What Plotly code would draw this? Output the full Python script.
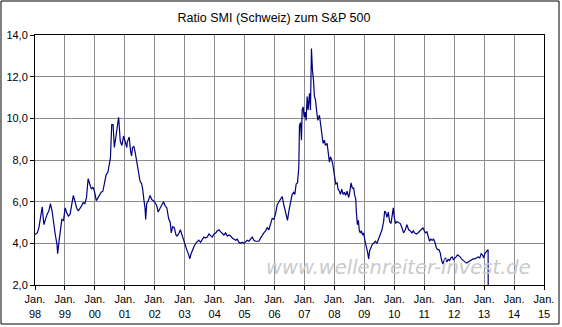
import plotly.graph_objects as go

# ---- data ----
years = [
    1998.00, 1998.077, 1998.131, 1998.186, 1998.241, 1998.296, 1998.350, 1998.405, 1998.460, 1998.515,
    1998.570, 1998.624, 1998.679, 1998.734, 1998.756, 1998.811, 1998.843, 1998.898, 1998.953, 1999.008,
    1999.062, 1999.117, 1999.172, 1999.227, 1999.281, 1999.336, 1999.391, 1999.446, 1999.501, 1999.555,
    1999.610, 1999.665, 1999.720, 1999.774, 1999.829, 1999.884, 1999.939, 1999.993, 2000.048, 2000.103,
    2000.158, 2000.212, 2000.267, 2000.322, 2000.377, 2000.432, 2000.486, 2000.519, 2000.563, 2000.607,
    2000.651, 2000.705, 2000.760, 2000.793, 2000.848, 2000.903, 2000.957, 2001.001, 2001.067,
    2001.079, 2001.146, 2001.191, 2001.225, 2001.258, 2001.303, 2001.348, 2001.393, 2001.449, 2001.506,
    2001.562, 2001.596, 2001.640, 2001.674, 2001.697, 2001.730, 2001.787, 2001.843, 2001.899, 2001.955,
    2002.011, 2002.067, 2002.112, 2002.180, 2002.236, 2002.292, 2002.348, 2002.404, 2002.461, 2002.517,
    2002.551, 2002.596, 2002.652, 2002.708, 2002.742, 2002.798, 2002.854, 2002.910, 2002.966, 2003.022,
    2003.079, 2003.135, 2003.169, 2003.213, 2003.258, 2003.326, 2003.393, 2003.472, 2003.528, 2003.584,
    2003.640, 2003.697, 2003.753, 2003.809, 2003.865, 2003.921, 2003.978, 2004.034, 2004.090, 2004.146,
    2004.202, 2004.258,
    2004.311, 2004.367, 2004.422, 2004.478, 2004.533, 2004.589, 2004.644, 2004.700, 2004.756, 2004.811,
    2004.867, 2004.922, 2004.978, 2005.033, 2005.089, 2005.144, 2005.200, 2005.256, 2005.311, 2005.367,
    2005.422, 2005.478, 2005.533, 2005.589, 2005.644, 2005.700, 2005.756, 2005.811, 2005.867, 2005.922,
    2005.978, 2006.033, 2006.089, 2006.144, 2006.200, 2006.256, 2006.311, 2006.367, 2006.400, 2006.433,
    2006.478, 2006.533, 2006.589, 2006.644, 2006.678, 2006.722, 2006.767, 2006.811, 2006.833, 2006.867,
    2006.900, 2006.922, 2006.956, 2006.989, 2007.022, 2007.056, 2007.089, 2007.122, 2007.167, 2007.200,
    2007.233, 2007.267, 2007.300, 2007.333, 2007.367, 2007.411, 2007.444,
    2007.500, 2007.533, 2007.589, 2007.622, 2007.667, 2007.700, 2007.756, 2007.789, 2007.833, 2007.867,
    2007.900, 2007.944, 2007.978, 2008.011, 2008.044, 2008.089, 2008.122, 2008.167, 2008.200, 2008.244,
    2008.289, 2008.333, 2008.378, 2008.422, 2008.478, 2008.511, 2008.556, 2008.600, 2008.644, 2008.678,
    2008.711, 2008.733, 2008.767, 2008.800, 2008.833, 2008.867, 2008.900, 2008.944, 2008.978, 2009.022,
    2009.067, 2009.111, 2009.144, 2009.178, 2009.222, 2009.267, 2009.311, 2009.367, 2009.422, 2009.478,
    2009.533, 2009.589, 2009.644, 2009.678, 2009.711, 2009.756, 2009.800, 2009.844, 2009.889, 2009.933,
    2009.967, 2010.000, 2010.044, 2010.089, 2010.144, 2010.200, 2010.256, 2010.311, 2010.367, 2010.422,
    2010.478, 2010.533, 2010.589, 2010.633,
    2010.678, 2010.733, 2010.789, 2010.844, 2010.900, 2010.956, 2011.000, 2011.044, 2011.089, 2011.133,
    2011.178, 2011.222, 2011.267, 2011.311, 2011.356, 2011.400, 2011.444, 2011.489, 2011.533, 2011.578,
    2011.622, 2011.667, 2011.711, 2011.756, 2011.800, 2011.844, 2011.889, 2011.933, 2011.978, 2012.022,
    2012.067, 2012.111, 2012.156, 2012.200, 2012.244, 2012.289,
    2012.356, 2012.411, 2012.467, 2012.522, 2012.578, 2012.633, 2012.689, 2012.744, 2012.800, 2012.856,
    2012.900, 2012.944, 2012.989, 2013.022, 2013.056, 2013.100, 2013.133, 2013.140,
]
ratio = [
    4.43, 4.5, 4.75, 5.2, 5.75, 4.9, 5.2, 5.4, 5.55, 5.9,
    5.55, 4.9, 4.4, 3.95, 3.5, 4.2, 4.65, 5.15, 5.1, 5.7,
    5.45, 5.3, 5.4, 5.8, 6.3, 6.0, 5.7, 5.55, 5.65, 5.8,
    5.95, 5.9, 6.2, 7.1, 6.85, 6.6, 6.7, 6.45, 6.05, 6.2,
    6.35, 6.45, 6.5, 6.9, 7.3, 7.4, 7.95, 8.1, 9.7, 9.7,
    8.6, 9.1, 9.7, 10.05, 8.9, 8.7, 9.15, 8.9, 8.6,
    8.85, 9.1, 8.45, 8.2, 8.6, 8.65, 8.35, 7.9, 7.5, 7.0,
    6.85, 6.6, 6.05, 5.7, 5.15, 5.9, 6.05, 6.3, 6.1, 6.05,
    5.95, 5.8, 5.5, 5.7, 5.9, 6.0, 5.8, 5.7, 5.2, 5.0,
    4.5, 4.8, 4.75, 4.4, 4.35, 4.45, 4.65, 4.4, 4.05, 3.9,
    3.65, 3.45, 3.25, 3.5, 3.7, 3.9, 4.05, 4.15, 4.05, 4.2,
    4.3, 4.25, 4.3, 4.45, 4.35, 4.3, 4.45, 4.5, 4.6, 4.65,
    4.55, 4.45,
    4.4, 4.5, 4.35, 4.4, 4.35, 4.25, 4.2, 4.15, 4.2, 4.05,
    4.0, 4.05, 4.0, 4.1, 4.15, 4.1, 4.2, 4.3, 4.15, 4.1,
    4.1, 4.1, 4.25, 4.4, 4.5, 4.6, 4.75, 4.65, 5.0, 5.2,
    5.15, 5.4, 5.85, 6.0, 6.1, 6.25, 5.85, 5.55, 5.4, 5.1,
    5.55, 5.9, 6.35, 6.45, 6.35, 6.85, 6.9, 7.65, 9.65, 9.8,
    8.95, 10.4, 10.55, 10.05, 10.3, 9.9, 11.05, 10.4, 11.2, 10.4,
    13.35, 12.3, 11.85, 11.05, 10.9, 10.3, 9.9,
    10.15, 9.75, 9.25, 8.8, 8.95, 8.7, 8.8, 8.45, 7.9, 8.15,
    8.05, 7.8, 7.5, 7.15, 6.85, 6.9, 6.6, 6.5, 6.35, 6.6,
    6.35, 6.45, 6.3, 6.5, 6.2, 6.45, 6.9, 6.65, 6.65, 6.3,
    6.15, 5.5, 4.9, 5.1, 4.6, 4.5, 4.6, 4.4, 4.5, 4.1,
    3.85, 3.55, 3.25, 3.65, 3.8, 3.95, 4.0, 4.1, 4.0, 4.2,
    4.4, 4.65, 5.05, 5.55, 5.5, 5.25, 5.5, 5.05, 4.95, 5.4,
    5.7, 5.25, 4.95, 5.05, 5.0, 4.95, 4.75, 4.5, 4.65, 4.9,
    4.65, 4.6, 4.5, 4.6,
    4.5, 4.45, 4.5, 4.6, 4.7, 4.75, 4.6, 4.5, 4.55, 4.35,
    4.1, 4.2, 4.15, 4.2, 4.05, 3.8, 3.7, 3.7, 3.55, 3.2,
    3.0, 3.2, 3.3, 3.1, 3.25, 3.15, 3.3, 3.35, 3.2, 3.3,
    3.35, 3.45, 3.4, 3.35, 3.25, 3.2,
    3.15, 3.05, 3.1, 3.15, 3.2, 3.25, 3.25, 3.3, 3.35, 3.3,
    3.5, 3.45, 3.3, 3.5, 3.6, 3.65, 3.7, 0.0,
]
tick_years = list(range(1998, 2016))
tick_labels = ["Jan.<br>%02d" % (y % 100) for y in tick_years]
y_ticks = [2, 4, 6, 8, 10, 12, 14]

title_text = "Ratio SMI (Schweiz) zum S&P 500"
watermark = "www.wellenreiter-invest.de"

# ---- layout geometry ----
W, H = 562, 327
L, R, T, B = 35, 18, 35, 42
pw, ph = W - L - R, H - T - B

def px_x(px):
    return (px - L) / pw

def px_y(py):
    return (H - B - py) / ph

fig = go.Figure()
fig.add_trace(go.Scatter(
    x=years, y=ratio, mode="lines",
    line=dict(color="#000080", width=1.2),
    hoverinfo="skip", showlegend=False,
))

font_main = "Liberation Sans, Arial, sans-serif"

fig.update_layout(
    template="none",
    width=W, height=H,
    margin=dict(l=L, r=R, t=T, b=B, pad=0, autoexpand=False),
    paper_bgcolor="white", plot_bgcolor="white",
    separators=", ",
    showlegend=False,
    title=dict(text=title_text, x=274 / W, xref="container",
               xanchor="center", y=1 - 18 / H, yanchor="middle",
               font=dict(family=font_main, size=12.5, color="black")),
    xaxis=dict(
        range=[1998, 2015], tickmode="array", tickvals=tick_years, ticktext=tick_labels,
        showgrid=True, gridcolor="#8c8c8c", gridwidth=1,
        showline=True, linecolor="black", linewidth=1, mirror=True,
        ticks="outside", ticklen=4, tickcolor="black", tickwidth=1,
        tickfont=dict(family=font_main, size=11, color="black"),
        zeroline=False, fixedrange=True, automargin=False,
    ),
    yaxis=dict(
        range=[2, 14], tickmode="array", tickvals=y_ticks, tickformat=".1f",
        showgrid=True, gridcolor="#8c8c8c", gridwidth=1,
        showline=True, linecolor="black", linewidth=1, mirror=True,
        ticks="outside", ticklen=4, tickcolor="black", tickwidth=1,
        tickfont=dict(family=font_main, size=11, color="black"),
        zeroline=False, fixedrange=True, automargin=False,
    ),
    annotations=[dict(
        text="<i>" + watermark + "</i>", xref="paper", yref="paper",
        x=px_x(398), y=px_y(267), xanchor="center", yanchor="middle",
        showarrow=False, font=dict(family="DejaVu Sans, Verdana, sans-serif", size=19.5, color="#cacaca"),
    )],
    shapes=[dict(
        type="rect", xref="paper", yref="paper",
        x0=px_x(1), x1=px_x(559), y0=px_y(324), y1=px_y(1),
        line=dict(color="black", width=1), fillcolor="rgba(0,0,0,0)", layer="above",
    )],
)

fig.write_html("out.html", config={"displayModeBar": False})
